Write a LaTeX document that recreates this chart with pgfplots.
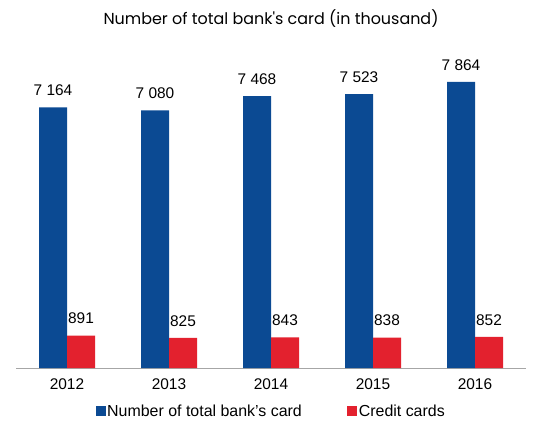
\documentclass[border=0pt]{standalone}
\usepackage{fontspec}
\setmainfont{Liberation Sans}
\newfontfamily\titlefont{Poppins}
\usepackage{pgfplots}
\pgfplotsset{compat=1.18}
\definecolor{cblue}{HTML}{0B4A93}
\definecolor{cred}{HTML}{E3212E}
\begin{document}
\begin{tikzpicture}
\useasboundingbox (0,0) rectangle (534bp,426bp);
\node[font=\titlefont\fontsize{16}{19}\selectfont, text=black] at (271bp,407bp) {Number of total bank's card (in thousand)};
\begin{axis}[
  at={(67bp,58bp)}, anchor=origin,
  x=102bp, y=0.0364bp,
  xmin=-0.5, xmax=4.5, ymin=0, ymax=9000,
  scale only axis,
  axis x line=bottom, axis y line=none,
  axis line style={draw=gray!70, line width=0.8pt, -},
  xtick={0,1,2,3,4}, xticklabels={2012,2013,2014,2015,2016},
  major tick length=0pt,
  /pgf/number format/assume math mode=true,
  tick label style={font=\fontsize{15.5}{18}\selectfont},
  xticklabel style={yshift=-7bp},
  ybar, bar width=28bp,
  point meta=explicit symbolic,
  nodes near coords,
  every node near coord/.append style={font=\fontsize{15.5}{18}\selectfont, yshift=8bp},
  legend style={at={(0.5,-58bp)}, anchor=south, draw=none, legend columns=2,
    font=\fontsize{16}{18}\selectfont, yshift=4bp,
    /tikz/every odd column/.append style={column sep=0bp},
    /tikz/every even column/.append style={column sep=44bp},
    nodes={inner xsep=1.5bp}},
  legend image code/.code={\fill[#1] (0bp,-5bp) rectangle (10bp,5bp);},
  clip=false,
]
\addplot[bar shift=-14bp, fill=cblue, draw=none] coordinates {
 (0,7164) [7 164] (1,7080) [7 080] (2,7468) [7 468] (3,7523) [7 523] (4,7864) [7 864]};
\addlegendentry{Number of total bank's card}
\addplot[bar shift=14bp, fill=cred, draw=none] coordinates {
 (0,891) [891] (1,825) [825] (2,843) [843] (3,838) [838] (4,852) [852]};
\addlegendentry{Credit cards}
\end{axis}
\end{tikzpicture}
\end{document}
